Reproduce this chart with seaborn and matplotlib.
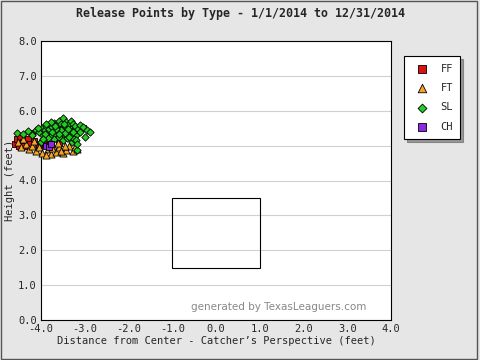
import matplotlib
matplotlib.use("Agg")
import matplotlib.pyplot as plt
import seaborn as sns
import pandas as pd
from matplotlib.patches import Rectangle

sns.set_style("white")
plt.rcParams['font.family'] = ['DejaVu Sans Mono']

# Release point data (feet)
sl_x = [-4.55, -4.40, -4.30, -4.20, -4.12, -4.05, -3.98, -3.95, -3.90, -3.88, -3.85, -3.82,
        -3.80, -3.78, -3.75, -3.72, -3.70, -3.68, -3.65, -3.62, -3.60, -3.58, -3.55, -3.52,
        -3.50, -3.48, -3.45, -3.42, -3.40, -3.38, -3.35, -3.32, -3.30, -3.28, -3.25, -3.22,
        -3.20, -3.18, -3.15, -3.12, -3.10, -3.05, -3.00, -2.95, -2.88, -3.70, -3.60, -3.50,
        -3.40, -3.30, -3.55, -3.45, -3.65, -3.75, -3.85, -3.35, -3.25, -4.00, -3.92, -3.20,
        -3.58, -3.48, -3.38, -3.68, -3.78, -3.28, -3.88, -3.95, -4.08, -3.18]
sl_y = [5.36, 5.33, 5.42, 5.30, 5.45, 5.38, 5.50, 5.30, 5.44, 5.56, 5.35, 5.48,
        5.60, 5.28, 5.52, 5.40, 5.65, 5.33, 5.58, 5.45, 5.72, 5.38, 5.62, 5.50,
        5.78, 5.30, 5.55, 5.68, 5.42, 5.60, 5.35, 5.72, 5.50, 5.62, 5.44, 5.55,
        5.30, 4.88, 5.48, 5.60, 5.38, 5.52, 5.25, 5.45, 5.39, 5.20, 5.25, 5.15,
        5.22, 5.10, 5.45, 5.35, 5.48, 5.40, 5.22, 5.25, 5.20, 5.10, 5.32, 5.15,
        5.32, 5.62, 5.48, 5.56, 5.68, 5.38, 5.62, 5.20, 5.50, 5.05]
ff_x = [-4.60, -4.55, -4.50, -4.48, -4.42, -4.38, -4.30, -4.25, -4.20, -4.15, -4.05, -3.98,
        -3.92, -3.85, -3.80, -3.04, -3.60]
ff_y = [5.05, 5.18, 5.00, 5.25, 5.10, 4.98, 5.20, 5.05, 5.35, 5.12, 5.02, 5.42, 5.15,
        5.28, 5.05, 5.50, 5.08]
ft_x = [-4.52, -4.45, -4.35, -4.28, -4.20, -4.12, -4.05, -3.98, -3.92, -3.85, -3.78, -3.72,
        -3.65, -3.58, -3.50, -3.42, -3.35, -3.28, -3.22, -3.18, -4.00, -3.88, -3.75, -3.62,
        -3.45, -4.40, -3.55, -4.15]
ft_y = [5.10, 4.95, 5.05, 4.90, 5.00, 4.85, 4.95, 4.80, 5.05, 4.90, 4.75, 5.00,
        4.82, 4.95, 4.78, 4.88, 5.00, 4.85, 4.95, 4.90, 5.15, 4.72, 4.92, 5.08,
        4.98, 5.18, 4.86, 5.12]
ch_x = [-3.88, -3.82, -3.78]
ch_y = [5.00, 4.95, 5.05]

types = ["FF", "FT", "SL", "CH"]
colors = {"FF": "#dd1111", "FT": "#f5a623", "SL": "#22cc22", "CH": "#8a2be2"}
markers = {"FF": "s", "FT": "^", "SL": "D", "CH": "s"}
sizes = {"FF": 20, "FT": 26, "SL": 14, "CH": 20}

df = pd.concat([
    pd.DataFrame({"x": ff_x, "y": ff_y, "type": "FF"}),
    pd.DataFrame({"x": ft_x, "y": ft_y, "type": "FT"}),
    pd.DataFrame({"x": sl_x, "y": sl_y, "type": "SL"}),
    pd.DataFrame({"x": ch_x, "y": ch_y, "type": "CH"}),
], ignore_index=True)

fig = plt.figure(figsize=(4.8, 3.6), dpi=100)
fig.patch.set_facecolor("#e6e6e6")
ax = fig.add_axes([41/480, 40/360, 350/480, 279/360])
ax.set_facecolor("white")

for t in ["FF", "FT", "SL", "CH"]:
    sub = df[df["type"] == t]
    sns.scatterplot(data=sub, x="x", y="y", ax=ax, color=colors[t], marker=markers[t],
                    s=sizes[t], edgecolor="black", linewidth=0.6, label=t, clip_on=False,
                    zorder=3)

# strike zone
ax.add_patch(Rectangle((-1.0, 1.5), 2.0, 2.0, fill=False, edgecolor="black", linewidth=0.8, zorder=2))

ax.set_xlim(-4, 4)
ax.set_ylim(0, 8)
ax.set_xticks([-4, -3, -2, -1, 0, 1, 2, 3, 4])
ax.set_xticks([-3.5, -2.5, -1.5, -0.5, 0.5, 1.5, 2.5, 3.5], minor=True)
ax.set_yticks([0, 1, 2, 3, 4, 5, 6, 7, 8])
ax.set_xticklabels([f"{v:.1f}" for v in [-4, -3, -2, -1, 0, 1, 2, 3, 4]])
ax.set_yticklabels([f"{v:.1f}" for v in [0, 1, 2, 3, 4, 5, 6, 7, 8]])
ax.tick_params(axis="both", which="major", length=4, width=0.8, color="black",
               labelsize=7.5, direction="in", pad=3)
ax.tick_params(axis="x", which="minor", length=2, width=0.8, color="black", direction="in")
ax.yaxis.grid(True, color="#d0d0d0", linewidth=0.8)
ax.set_axisbelow(True)
for s in ax.spines.values():
    s.set_color("black")
    s.set_linewidth(0.8)

ax.set_xlabel("Distance from Center - Catcher\u2019s Perspective (feet)", fontsize=7.5, labelpad=1)
ax.set_ylabel("Height (feet)", fontsize=7.5, labelpad=2)
fig.text(0.5, 0.962, "Release Points by Type - 1/1/2014 to 12/31/2014",
         ha="center", va="center", fontsize=8.4, fontweight="bold")
ax.text(0.93, 0.03, "generated by TexasLeaguers.com", transform=ax.transAxes,
        ha="right", va="bottom", fontsize=7.5, color="#888888",
        family="DejaVu Sans")

handles, labels = ax.get_legend_handles_labels()
leg = fig.legend(handles, labels, loc="upper left", bbox_to_anchor=(399/480, 1 - 51/360),
                 frameon=True, shadow=True, fancybox=False, fontsize=7.5,
                 handletextpad=0.8, labelspacing=0.9, borderpad=0.7, markerscale=1.2)
leg.get_frame().set_edgecolor("black")
leg.get_frame().set_linewidth(0.8)
if ax.get_legend():
    ax.get_legend().remove()

# figure border
fig.add_artist(Rectangle((0.002, 0.004), 0.992, 0.993, transform=fig.transFigure,
                         fill=False, edgecolor="#555555", linewidth=1.0))

fig.savefig("out.png", dpi=100, facecolor=fig.get_facecolor())
